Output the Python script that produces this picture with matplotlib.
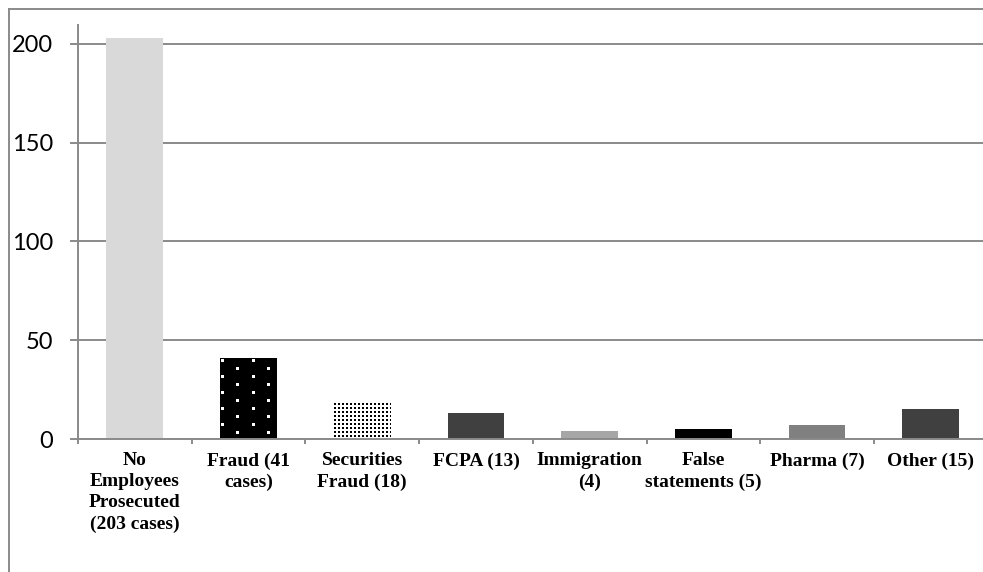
import numpy as np
import matplotlib
matplotlib.use("Agg")
import matplotlib.pyplot as plt
from matplotlib.lines import Line2D

# Data
categories = [
    "No\nEmployees\nProsecuted\n(203 cases)",
    "Fraud (41\ncases)",
    "Securities\nFraud (18)",
    "FCPA (13)",
    "Immigration\n(4)",
    "False\nstatements (5)",
    "Pharma (7)",
    "Other (15)",
]
cases = [203, 41, 18, 13, 4, 5, 7, 15]
bar_colors = ["#d9d9d9", "#000000", "#ffffff", "#404040",
              "#a6a6a6", "#000000", "#808080", "#404040"]
y_ticks = [0, 50, 100, 150, 200]

W, H, DPI = 983, 572, 100
GRAY = "#8a8a8a"

fig = plt.figure(figsize=(W / DPI, H / DPI), dpi=DPI)
fig.patch.set_facecolor("white")

# Plot area in pixel terms
left_px, right_px, top_px, base_px = 78, 987.6, 25, 439
ax = fig.add_axes([left_px / W, (H - base_px) / H,
                   (right_px - left_px) / W, (base_px - top_px) / H])

x = np.arange(len(categories))
ax.set_xlim(-0.5, len(categories) - 0.5)
ax.set_ylim(0, 209.5)

bars = ax.bar(x, cases, width=0.5, color=bar_colors, linewidth=0, zorder=2)

# Axes styling
for side in ("top", "right"):
    ax.spines[side].set_visible(False)
for side in ("left", "bottom"):
    ax.spines[side].set_color(GRAY)
    ax.spines[side].set_linewidth(1.4)

ax.set_yticks(y_ticks)
ax.set_yticklabels([str(v) for v in y_ticks], fontfamily="Lato", fontsize=17)
ax.tick_params(axis="y", length=5.8, width=1.4, color=GRAY, direction="out", pad=12)
ax.yaxis.grid(True, color=GRAY, linewidth=1.4)
ax.set_axisbelow(True)

ax.set_xticks(x)
ax.set_xticklabels(categories, fontfamily="Liberation Serif", fontweight="bold",
                   fontsize=14, linespacing=1.31, va="top")
ax.tick_params(axis="x", which="major", length=0, pad=9.6)
ax.set_xticks(np.arange(-0.5, len(categories)), minor=True)
ax.tick_params(axis="x", which="minor", length=3.6, width=1.4, color=GRAY, direction="out")

# Outer chart frame (left and top edges visible)
fig.add_artist(Line2D([8.5 / W, 8.5 / W], [0, 1 - 8.5 / H], transform=fig.transFigure,
                      color=GRAY, linewidth=1.4))
fig.add_artist(Line2D([8.5 / W, 1], [1 - 8.5 / H, 1 - 8.5 / H], transform=fig.transFigure,
                      color=GRAY, linewidth=1.4))


def texture_fill(bar, tile):
    """Cover a bar with a pixel-aligned repeating tile pattern."""
    (x0, y0), (x1, y1) = ax.transData.transform(
        [[bar.get_x(), 0], [bar.get_x() + bar.get_width(), bar.get_height()]])
    px0, px1 = int(round(x0)), int(round(x1))
    py0, py1 = int(round(y0)) + 1, int(round(y1))
    w, h = px1 - px0, py1 - py0
    reps = (h // tile.shape[0] + 2, w // tile.shape[1] + 2, 1)
    img = np.tile(tile, reps)[:h, :w]
    fig.figimage(img, xo=px0, yo=py0, origin="upper", zorder=3)


# Black with staggered white squares
fraud_tile = np.zeros((16, 31, 3))
fraud_tile[1:4, 1:4] = 1.0
fraud_tile[9:12, 16:19] = 1.0

# White with a fine grid of black dots
dots_tile = np.ones((4, 4, 3))
dots_tile[0:2, 0:2] = 0.0

texture_fill(bars[1], fraud_tile)
texture_fill(bars[2], dots_tile)

fig.savefig("out.png", dpi=DPI)
